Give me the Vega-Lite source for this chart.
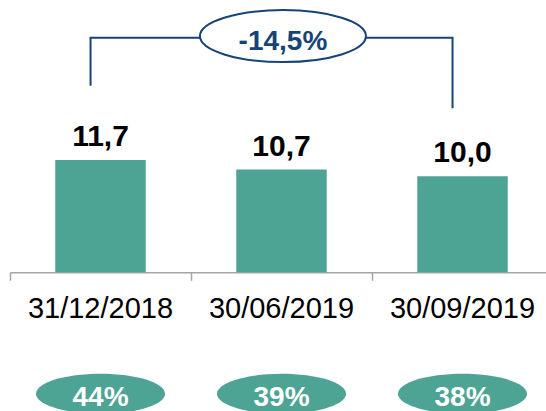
{
  "$schema": "https://vega.github.io/schema/vega-lite/v6.json",
  "width": 536,
  "height": 411,
  "autosize": {"type": "none"},
  "padding": {"left": 10, "top": 0, "right": 0, "bottom": 0},
  "background": "white",
  "config": {"view": {"stroke": null}, "font": "Liberation Sans"},
  "datasets": {
    "bars": [
      {"date": "31/12/2018", "value": 11.7, "label": "11,7", "share": "44%"},
      {"date": "30/06/2019", "value": 10.7, "label": "10,7", "share": "39%"},
      {"date": "30/09/2019", "value": 10.0, "label": "10,0", "share": "38%"}
    ],
    "bracket": [
      {"date": "31/12/2018", "level": 19.44, "ord": 1},
      {"date": "31/12/2018", "level": 24.44, "ord": 2},
      {"date": "30/09/2019", "level": 24.44, "ord": 3},
      {"date": "30/09/2019", "level": 17.08, "ord": 4}
    ],
    "change": [
      {"date": "30/06/2019", "text": "-14,5%"}
    ]
  },
  "layer": [
    {
      "data": {"name": "bracket"},
      "mark": {"type": "line", "color": "#164476", "strokeWidth": 2, "interpolate": "linear"},
      "encoding": {
        "x": {
          "field": "date", "type": "nominal", "bandPosition": 0.445,
          "scale": {"domain": ["31/12/2018", "30/06/2019", "30/09/2019"], "range": [0, 543], "paddingInner": 0, "paddingOuter": 0},
          "axis": {
            "title": null, "labels": false, "grid": false, "bandPosition": 0,
            "domainColor": "#a6a6a6", "domainWidth": 1.5,
            "tickColor": "#a6a6a6", "tickWidth": 1.5, "tickSize": 8,
            "offset": -138.7
          }
        },
        "y": {
          "field": "level", "type": "quantitative",
          "scale": {"domain": [-14.45, 28.36], "nice": false, "zero": false},
          "axis": null
        },
        "order": {"field": "ord", "type": "quantitative"}
      }
    },
    {
      "data": {"name": "change"},
      "mark": {"type": "point", "filled": true, "fill": "white", "stroke": "#164476", "strokeWidth": 2, "opacity": 1,
               "shape": "M-1,0A1,0.313 0 1,1 1,0A1,0.313 0 1,1 -1,0Z", "size": 27556},
      "encoding": {
        "x": {"field": "date", "type": "nominal", "bandPosition": 0.508},
        "y": {"datum": 24.6}
      }
    },
    {
      "data": {"name": "change"},
      "mark": {"type": "text", "fontSize": 28, "fontWeight": "bold", "color": "#164476", "baseline": "alphabetic", "align": "center"},
      "encoding": {
        "x": {"field": "date", "type": "nominal", "bandPosition": 0.508},
        "y": {"datum": 23.16},
        "text": {"field": "text"}
      }
    },
    {
      "data": {"name": "bars"},
      "mark": {"type": "bar", "color": "#4ea494", "width": {"band": 0.5}},
      "encoding": {
        "x": {"field": "date", "type": "nominal"},
        "y": {"field": "value", "type": "quantitative"},
        "y2": {"datum": 0}
      }
    },
    {
      "data": {"name": "bars"},
      "mark": {"type": "text", "fontSize": 30, "fontWeight": "bold", "color": "black", "baseline": "alphabetic", "dy": -14},
      "encoding": {
        "x": {"field": "date", "type": "nominal"},
        "y": {"field": "value", "type": "quantitative"},
        "text": {"field": "label"}
      }
    },
    {
      "data": {"name": "bars"},
      "mark": {"type": "text", "fontSize": 29, "color": "black", "baseline": "alphabetic"},
      "encoding": {
        "x": {"field": "date", "type": "nominal"},
        "y": {"datum": -4.79},
        "text": {"field": "date"}
      }
    },
    {
      "data": {"name": "bars"},
      "mark": {"type": "point", "filled": true, "color": "#4ea494", "opacity": 1,
               "shape": "M-1,0A1,0.31 0 1,1 1,0A1,0.31 0 1,1 -1,0Z", "size": 16641},
      "encoding": {
        "x": {"field": "date", "type": "nominal"},
        "y": {"datum": -12.66}
      }
    },
    {
      "data": {"name": "bars"},
      "mark": {"type": "text", "fontSize": 28, "fontWeight": "bold", "color": "white", "baseline": "alphabetic"},
      "encoding": {
        "x": {"field": "date", "type": "nominal"},
        "y": {"datum": -13.98},
        "text": {"field": "share"}
      }
    }
  ]
}
